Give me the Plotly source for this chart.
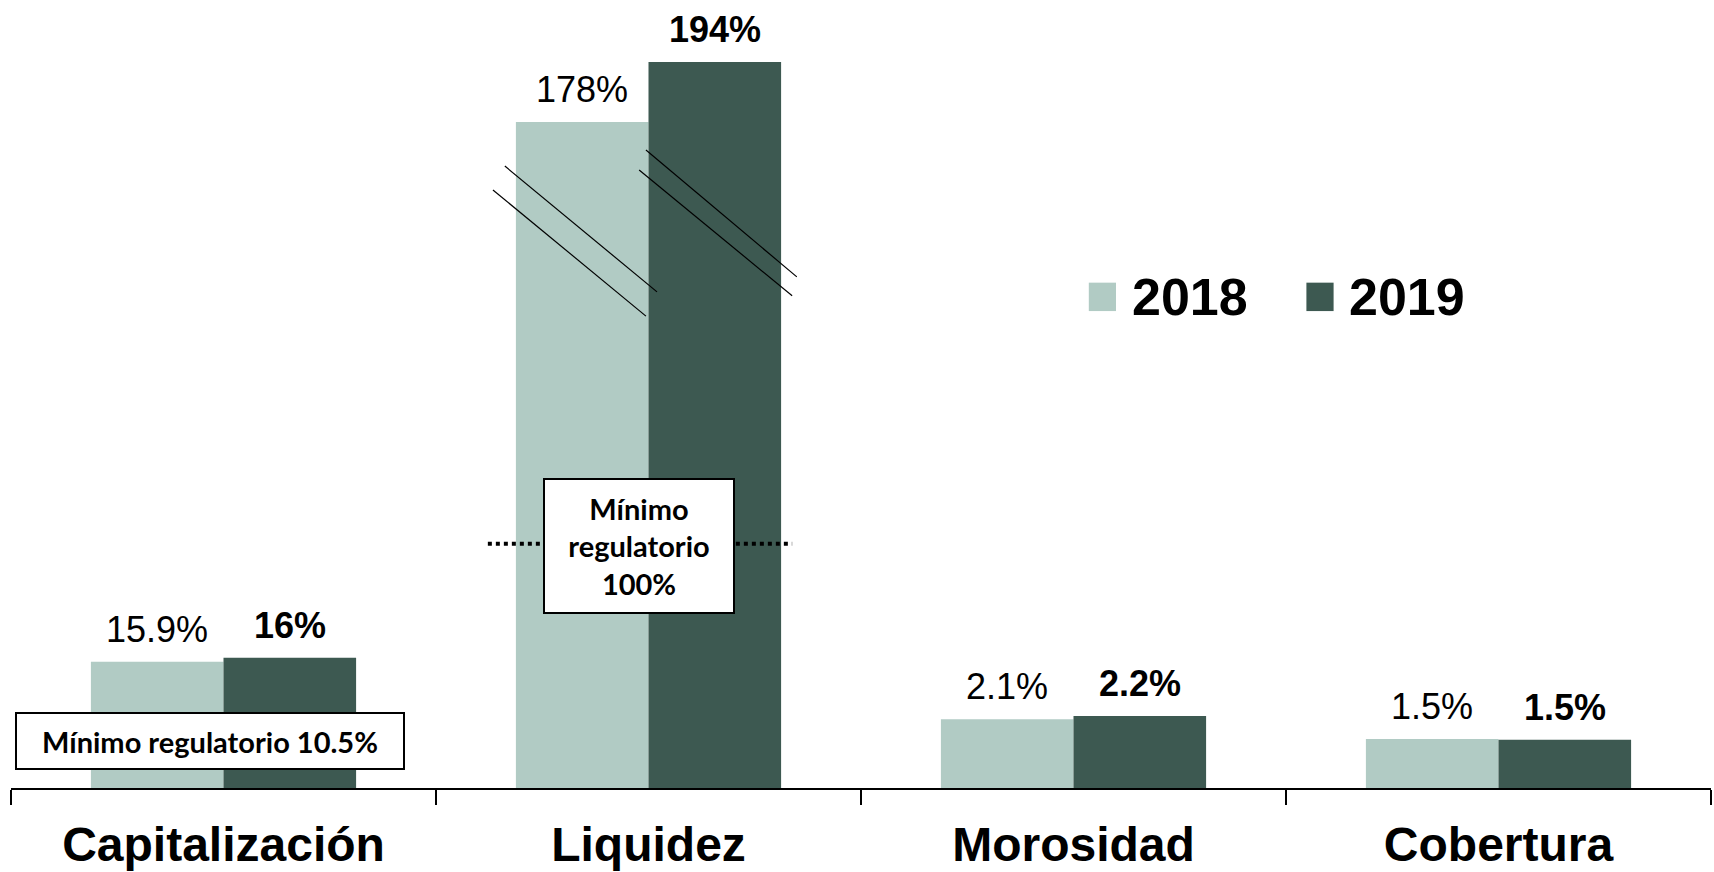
import plotly.graph_objects as go

categorias = ["Capitalización", "Liquidez", "Morosidad", "Cobertura"]
anios = ["2018", "2019"]
valores_2018 = [15.9, 178, 2.1, 1.5]
valores_2019 = [16.4, 194, 2.2, 1.48]
etiquetas_2018 = ["15.9%", "178%", "2.1%", "1.5%"]
etiquetas_2019 = ["16%", "194%", "2.2%", "1.5%"]
# the original chart draws each indicator on its own (broken) scale
escala = [0.243, 0.1145, 1.0, 1.0]

CLARO = "#b1cbc4"
OSCURO = "#3d5951"
FUENTE = "Liberation Sans, Arial, sans-serif"
FUENTE_CAJA = "Lato, Noto Sans, sans-serif"

W, H = 1714, 872
M_L, M_R, M_T, M_B = 11, 3, 20, 84
BARGAP = 0.376

alto_2018 = [v * e for v, e in zip(valores_2018, escala)]
alto_2019 = [v * e for v, e in zip(valores_2019, escala)]

fig = go.Figure()
fig.add_trace(go.Bar(x=categorias, y=alto_2018, name=anios[0], marker_color=CLARO,
                     marker_line_width=0, hoverinfo="skip"))
fig.add_trace(go.Bar(x=categorias, y=alto_2019, name=anios[1], marker_color=OSCURO,
                     marker_line_width=0, hoverinfo="skip"))

# value labels above each bar
ancho_cat = (W - M_L - M_R) / len(categorias)
desplaz = ancho_cat * (1 - BARGAP) / 4
for i, cat in enumerate(categorias):
    fig.add_annotation(x=cat, y=alto_2018[i], text=etiquetas_2018[i], xshift=-desplaz,
                       yshift=10, yanchor="bottom", showarrow=False,
                       font=dict(family=FUENTE, size=36, color="#000"))
    fig.add_annotation(x=cat, y=alto_2019[i], text="<b>" + etiquetas_2019[i] + "</b>",
                       xshift=desplaz, yshift=10, yanchor="bottom", showarrow=False,
                       font=dict(family=FUENTE, size=36, color="#000"))

# break marks on the Liquidez bars
cortes = [
    (0.662, 19.03, 1.020, 15.18),
    (0.634, 18.30, 0.994, 14.44),
    (0.994, 19.52, 1.349, 15.64),
    (0.978, 18.91, 1.338, 15.06),
]
for x0, y0, x1, y1 in cortes:
    fig.add_shape(type="line", x0=x0, y0=y0, x1=x1, y1=y1, xref="x", yref="y",
                  line=dict(color="#000", width=1.2))

# regulatory minimum for Liquidez
fig.add_shape(type="line", x0=0.622, x1=1.338, y0=7.47, y1=7.47, xref="x", yref="y",
              line=dict(color="#000", width=4, dash="dot"))
fig.add_annotation(x=0.978, y=7.40, xref="x", yref="y", showarrow=False,
                   text="<b>Mínimo<br>regulatorio<br>100%</b>",
                   width=186, height=130, borderpad=1, bgcolor="white",
                   bordercolor="#000", borderwidth=2,
                   font=dict(family=FUENTE_CAJA, size=29, color="#000"))
fig.add_annotation(x=-0.032, y=1.44, xref="x", yref="y", showarrow=False,
                   text="<b>Mínimo regulatorio 10.5%</b>",
                   width=384, height=52, borderpad=1, bgcolor="white",
                   bordercolor="#000", borderwidth=2,
                   font=dict(family=FUENTE_CAJA, size=29, color="#000"))

# legend drawn by hand so the swatches can be large
leyenda = [(0.634, 0.650, 0.658, CLARO, anios[0]), (0.762, 0.778, 0.786, OSCURO, anios[1])]
for x0, x1, xt, color, texto in leyenda:
    fig.add_shape(type="rect", xref="paper", yref="paper", x0=x0, x1=x1, y0=0.621, y1=0.658,
                  fillcolor=color, line_width=0)
    fig.add_annotation(xref="paper", yref="paper", x=xt, y=0.639, xanchor="left",
                       yanchor="middle", showarrow=False, text="<b>" + texto + "</b>",
                       font=dict(family=FUENTE, size=52, color="#000"))

fig.update_layout(
    width=W, height=H,
    margin=dict(l=M_L, r=M_R, t=M_T, b=M_B),
    barmode="group", bargap=BARGAP, bargroupgap=0,
    showlegend=False,
    paper_bgcolor="white", plot_bgcolor="white",
    xaxis=dict(type="category", tickson="boundaries", ticks="outside", ticklen=15,
               tickwidth=1.5, tickcolor="#000", showline=True, linecolor="#000",
               linewidth=1.5, showgrid=False, ticklabelstandoff=14, automargin=False,
               tickfont=dict(family=FUENTE, size=48, color="#000", weight="bold")),
    yaxis=dict(visible=False, range=[0, 23.5], fixedrange=True),
)

fig.write_html("out.html", config={"displayModeBar": False},
               post_script="document.body.style.margin='0';document.body.style.overflow='hidden';")
